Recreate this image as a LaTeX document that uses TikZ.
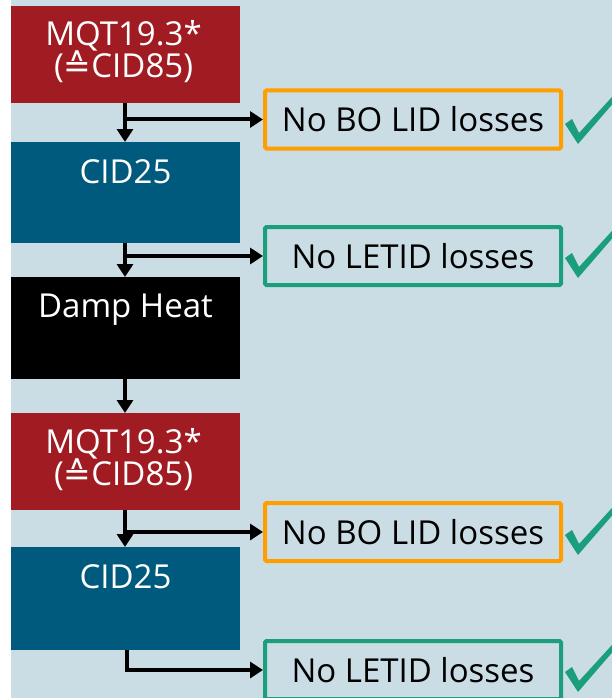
\documentclass[tikz,border=0pt]{standalone}
\usepackage{fontspec}
\setmainfont{Open Sans}
\newfontfamily\symfont{DejaVu Sans}
\usetikzlibrary{arrows.meta,calc}
\definecolor{bgblue}{HTML}{CADDE4}
\definecolor{mqtred}{HTML}{A01C22}
\definecolor{cidblue}{HTML}{005A7E}
\definecolor{okgreen}{HTML}{1A9E7B}
\definecolor{boorange}{HTML}{FF9E00}
\tikzset{
  stepbox/.style={draw=none, anchor=north west, minimum width=229pt, inner sep=0pt, outer sep=0pt},
  boxtext/.style={text=white, anchor=base, font=\fontsize{33}{35}\selectfont, inner sep=0pt, align=center},
  resbox/.style={draw, line width=4pt, rounded corners=1.5pt, minimum width=296pt, minimum height=58pt, inner sep=0pt, font=\fontsize{33}{35}\selectfont, text=black},
  arr/.style={line width=4pt, -{Triangle[width=16pt,length=13pt]}},
  checkmark/.style={fill=okgreen}
}
\newcommand{\drawcheck}[1]{%
  \fill[checkmark] (#1) -- ++(-13,-20) -- ++(7,-5) -- ++(7,14) -- ++(43,-47) -- ++(0,7) -- cycle;}
\begin{document}
\begin{tikzpicture}[x=1pt,y=-1pt]
\useasboundingbox (0,0) rectangle (612,698);
\clip (0,0) rectangle (612,698);
\fill[white] (0,0) rectangle (612,698);
\fill[bgblue] (11,0) rectangle (612,698);

% process boxes
\node[stepbox, fill=mqtred, minimum height=97pt] (b1) at (11,6) {};
\node[stepbox, fill=cidblue, minimum height=101pt] (b2) at (11,142) {};
\node[stepbox, fill=black, minimum height=102pt] (b3) at (11,277) {};
\node[stepbox, fill=mqtred, minimum height=97pt] (b4) at (11,413) {};
\node[stepbox, fill=cidblue, minimum height=103pt] (b5) at (11,547) {};

% box texts
\node[boxtext] (t1) at ($(b1.north)+(-2,40)$) {MQT19.3*};
\node[boxtext] (t1b) at ($(b1.north)+(-2,72)$) {({\symfont ≙}CID85)};
\node[boxtext] (t2) at ($(b2.north)+(0,41)$) {CID25};
\node[boxtext] (t3) at ($(b3.north)+(0,40)$) {Damp Heat};
\node[boxtext] (t4) at ($(b4.north)+(-2,40)$) {MQT19.3*};
\node[boxtext] (t4b) at ($(b4.north)+(-2,72)$) {({\symfont ≙}CID85)};
\node[boxtext] (t5) at ($(b5.north)+(0,41)$) {CID25};

% result boxes
\node[resbox, draw=boorange] (r1) at (413,119.5) {No BO LID losses};
\node[resbox, draw=okgreen] (r2) at (413,256) {No LETID losses};
\node[resbox, draw=boorange] (r3) at (413,532) {No BO LID losses};
\node[resbox, draw=okgreen] (r4) at (413,670) {No LETID losses};

% check marks
\coordinate (c1) at (578,144);
\coordinate (c2) at (578,278);
\coordinate (c3) at (578,555);
\coordinate (c4) at (578,692);
\drawcheck{c1}
\drawcheck{c2}
\drawcheck{c3}
\drawcheck{c4}

% vertical connectors
\coordinate (vx) at (125,0);
\draw[arr] (b1.south -| vx) -- (b2.north -| vx);
\draw[arr] (b2.south -| vx) -- (b3.north -| vx);
\draw[arr] (b3.south -| vx) -- (b4.north -| vx);
\draw[arr] (b4.south -| vx) -- (b5.north -| vx);

% branch connectors
\coordinate (hx) at (125,0);
\draw[arr] (hx |- r1.west) ++(-2,0) -- (r1.west);
\draw[arr] (hx |- r2.west) ++(-2,0) -- (r2.west);
\draw[arr] (hx |- r3.west) ++(-2,0) -- (r3.west);
\coordinate (lx) at (127,0);
\draw[arr] (b5.south -| lx) |- (r4.west);
\end{tikzpicture}
\end{document}
